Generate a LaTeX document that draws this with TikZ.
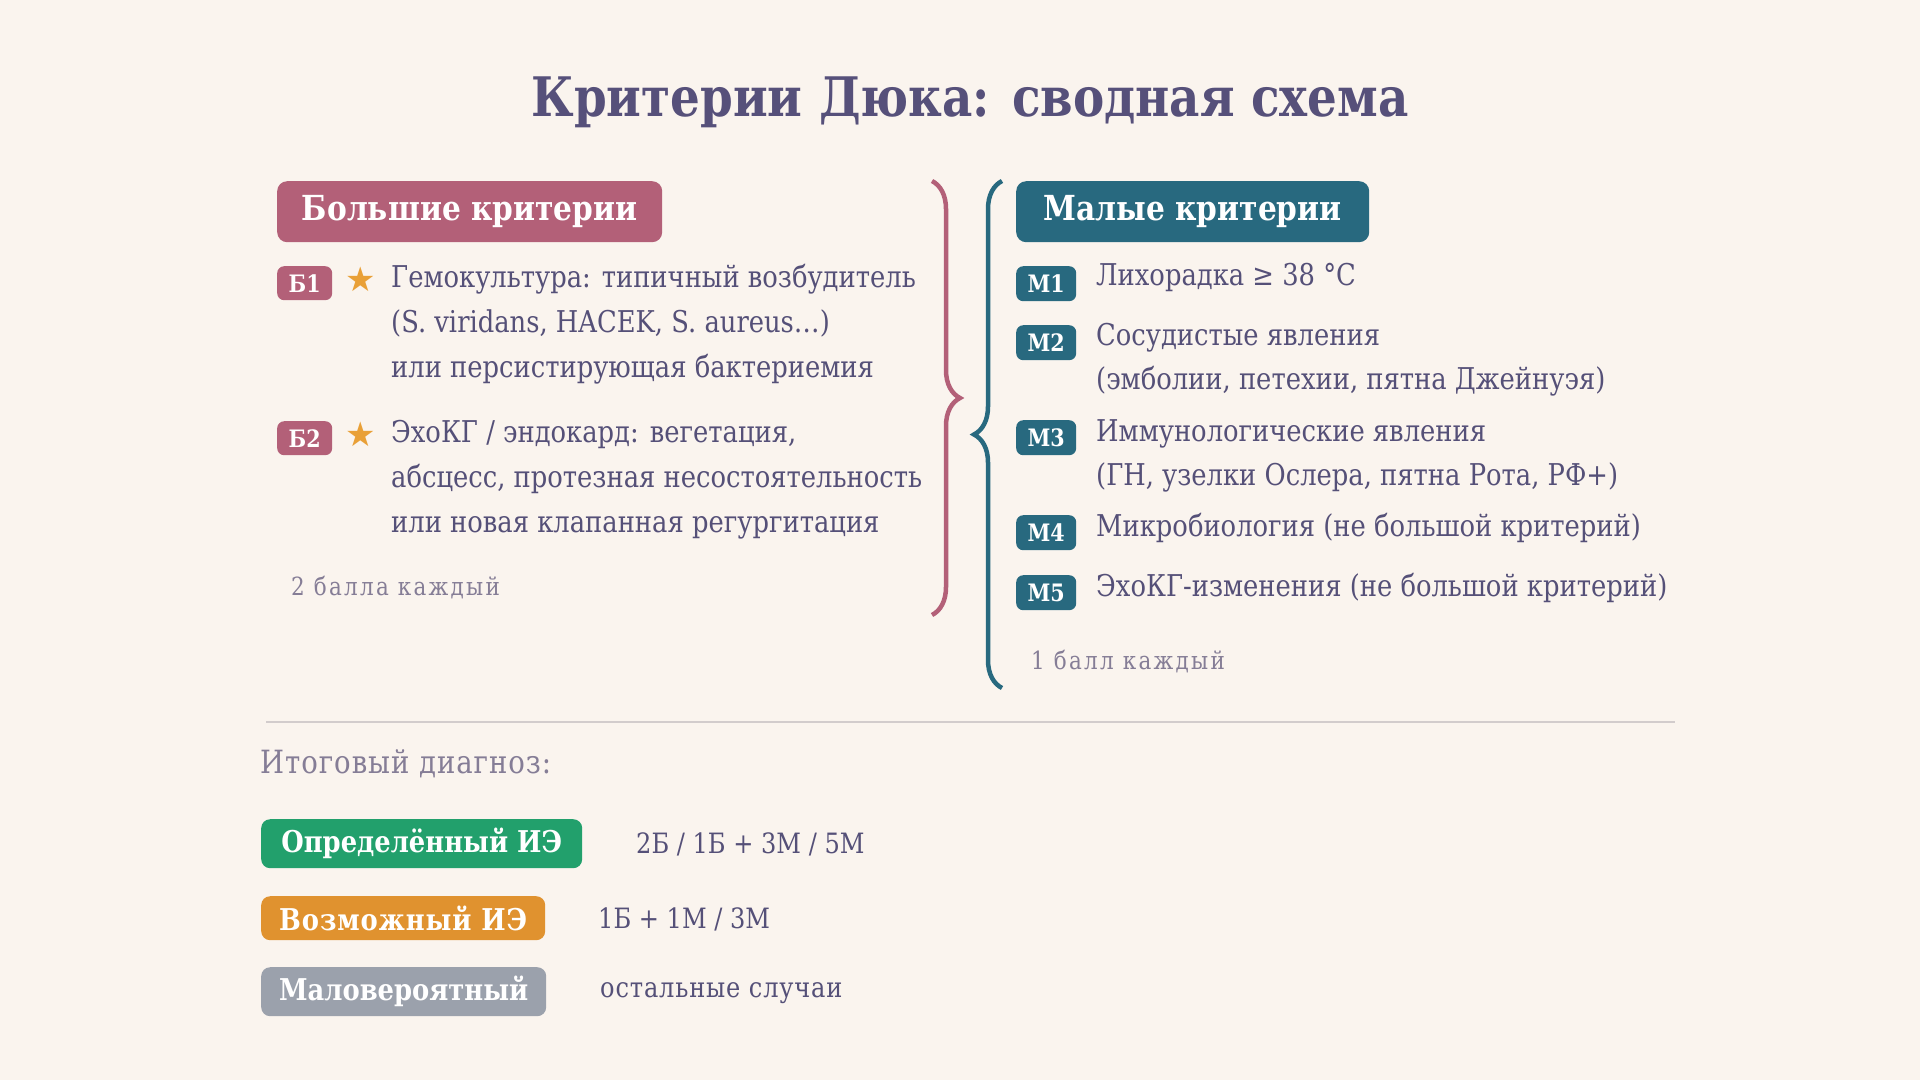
\documentclass[tikz,border=0pt]{standalone}
\usepackage{fontspec}
\setmainfont{DejaVu Serif}[FakeStretch=0.86]
\newfontfamily\symfont{DejaVu Sans}
\usetikzlibrary{decorations.pathreplacing}
\definecolor{bgc}{HTML}{FAF4EE}
\definecolor{titlec}{HTML}{56507A}
\definecolor{bodyc}{HTML}{555078}
\definecolor{mutedc}{HTML}{857D96}
\definecolor{mauve}{HTML}{B36078}
\definecolor{teal}{HTML}{28697F}
\definecolor{starc}{HTML}{E9A037}
\definecolor{greenc}{HTML}{22A06C}
\definecolor{orangec}{HTML}{E0922F}
\definecolor{grayc}{HTML}{9BA1AC}
\definecolor{sepc}{HTML}{D2CCCC}
\newcommand\fTitle{\bfseries\fontsize{54.5}{66}\selectfont}
\newcommand\fHdr{\bfseries\fontsize{34.5}{40}\selectfont}
\newcommand\fBadge{\bfseries\fontsize{24}{28}\selectfont}
\newcommand\fBody{\fontsize{30}{36}\selectfont}
\newcommand\fResTxt{\fontsize{28}{34}\selectfont}
\newcommand\fMuted{\fontsize{25}{30}\selectfont\addfontfeature{LetterSpace=9}}
\newcommand\fDiag{\fontsize{32}{38}\selectfont\addfontfeature{LetterSpace=3}}
\newcommand\fRes{\bfseries\fontsize{30}{36}\selectfont}
\tikzset{
  hdr/.style={rounded corners=10pt, text=white, font=\fHdr, inner sep=0pt, anchor=north west},
  badge/.style={rounded corners=7pt, text=white, font=\fBadge, inner sep=0pt, anchor=north west},
  body/.style={anchor=base west, inner sep=0pt, text=bodyc, font=\fBody},
  restxt/.style={anchor=base west, inner sep=0pt, text=bodyc, font=\fResTxt},
  muted/.style={anchor=base west, inner sep=0pt, text=mutedc, font=\fMuted},
  starn/.style={inner sep=0pt, text=starc, font=\symfont\fontsize{34}{36}\selectfont},
  resbox/.style={rounded corners=9pt, text=white, font=\fRes, inner sep=0pt, anchor=north west},
  bracec/.style={line width=4.5pt, decorate, decoration={brace, amplitude=28pt}},
}
\begin{document}
\begin{tikzpicture}[x=1pt,y=-1pt]
\fill[bgc] (0,0) rectangle (1920,1080);
\useasboundingbox (0,0) rectangle (1920,1080);

\node[anchor=base, inner sep=0pt, text=titlec, font=\fTitle] (title) at (970,116) {Критерии Дюка: сводная схема};

% major criteria
\node[hdr, fill=mauve, minimum width=385pt, minimum height=61pt] (bighdr) at (277,181) {Большие критерии};
\node[badge, fill=mauve, minimum width=55pt, minimum height=34pt] (b1) at (277,266) {Б1};
\node[starn] (s1) at (361,279) {★};
\node[body] (b1a) at (391,287) {Гемокультура: типичный возбудитель};
\node[body] (b1b) at (391,332) {(S. viridans, HACEK, S. aureus…)};
\node[body] (b1c) at (391,377) {или персистирующая бактериемия};
\node[badge, fill=mauve, minimum width=55pt, minimum height=34pt] (b2) at (277,421) {Б2};
\node[starn] (s2) at (361,434) {★};
\node[body] (b2a) at (391,442) {ЭхоКГ / эндокард: вегетация,};
\node[body] (b2b) at (391,487) {абсцесс, протезная несостоятельность};
\node[body] (b2c) at (391,532) {или новая клапанная регургитация};
\node[muted] (bpts) at (291,595) {2 балла каждый};

\draw[mauve, bracec] (932,181) -- (932,615);
\draw[teal, bracec] (1002,688) -- (1002,181);

% minor criteria
\node[hdr, fill=teal, minimum width=353pt, minimum height=61pt] (smallhdr) at (1016,181) {Малые критерии};
\node[badge, fill=teal, minimum width=60pt, minimum height=35pt] (m1) at (1016,266) {М1};
\node[body] (m1a) at (1096,285) {Лихорадка ≥ 38 °C};
\node[badge, fill=teal, minimum width=60pt, minimum height=35pt] (m2) at (1016,325) {М2};
\node[body] (m2a) at (1096,345) {Сосудистые явления};
\node[body] (m2b) at (1096,389) {(эмболии, петехии, пятна Джейнуэя)};
\node[badge, fill=teal, minimum width=60pt, minimum height=35pt] (m3) at (1016,420) {М3};
\node[body] (m3a) at (1096,441) {Иммунологические явления};
\node[body] (m3b) at (1096,485) {(ГН, узелки Ослера, пятна Рота, РФ+)};
\node[badge, fill=teal, minimum width=60pt, minimum height=35pt] (m4) at (1016,515) {М4};
\node[body] (m4a) at (1096,536) {Микробиология (не большой критерий)};
\node[badge, fill=teal, minimum width=60pt, minimum height=35pt] (m5) at (1016,575) {М5};
\node[body] (m5a) at (1096,596) {ЭхоКГ-изменения (не большой критерий)};
\node[muted] (mpts) at (1031,669) {1 балл каждый};

% separator
\coordinate (sepl) at (266,722);
\coordinate (sepr) at (1675,722);
\draw[sepc, line width=2pt] (sepl) -- (sepr);

% diagnosis
\node[anchor=base west, inner sep=0pt, text=mutedc, font=\fDiag] (diag) at (260,773) {Итоговый диагноз:};
\node[resbox, fill=greenc, minimum width=321pt, minimum height=49pt] (def) at (261,819) {Определённый ИЭ};
\node[restxt] (defr) at (636,853) {2Б / 1Б + 3М / 5М};
\node[resbox, fill=orangec, minimum width=284pt, minimum height=44pt] (pos) at (261,896) {\addfontfeature{LetterSpace=3}Возможный ИЭ};
\node[restxt] (posr) at (598,928) {1Б + 1М / 3М};
\node[resbox, fill=grayc, minimum width=285pt, minimum height=49pt] (unl) at (261,967) {Маловероятный};
\node[restxt] (unlr) at (600,997) {\addfontfeature{LetterSpace=3}остальные случаи};
\end{tikzpicture}
\end{document}
